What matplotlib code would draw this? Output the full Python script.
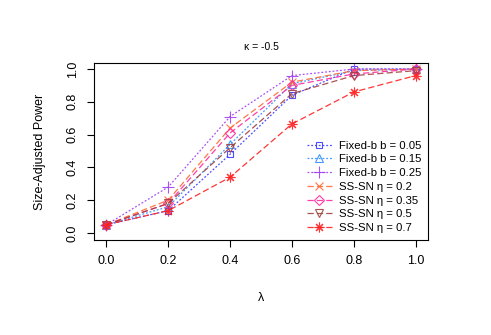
import matplotlib
matplotlib.use("Agg")
import matplotlib.pyplot as plt
import numpy as np

plt.rcParams['font.family'] = ['Liberation Sans', 'DejaVu Sans']

lam = [0.0, 0.2, 0.4, 0.6, 0.8, 1.0]
labels = ["Fixed-b b = 0.05", "Fixed-b b = 0.15", "Fixed-b b = 0.25",
          "SS-SN η = 0.2", "SS-SN η = 0.35", "SS-SN η = 0.5", "SS-SN η = 0.7"]
fb_005 = [0.05, 0.136, 0.48, 0.84, 1.00, 1.00]
fb_015 = [0.05, 0.16, 0.54, 0.91, 0.99, 1.00]
fb_025 = [0.05, 0.28, 0.71, 0.96, 1.00, 1.00]
ss_02 = [0.05, 0.20, 0.64, 0.92, 0.99, 1.00]
ss_035 = [0.05, 0.18, 0.61, 0.90, 0.97, 1.00]
ss_05 = [0.05, 0.18, 0.52, 0.85, 0.96, 0.99]
ss_07 = [0.05, 0.136, 0.34, 0.665, 0.86, 0.96]
series = [fb_005, fb_015, fb_025, ss_02, ss_035, ss_05, ss_07]

colors = ["#3b3bff", "#2f8fff", "#a040f0", "#ff6a33", "#ff2aa0", "#a0403f", "#ff2020"]
markers = ["s", "^", "+", "x", "D", "v", (8, 2, 0)]
styles = [(0, (1.5, 1.5)), (0, (1.5, 1.5)), (0, (1.5, 1.5)),
          (0, (5, 2.5)), (0, (5, 2.5)), (0, (5, 2.5)), (0, (5, 2.5))]
msizes = [5, 6, 8, 6, 5, 6, 7]

fig = plt.figure(figsize=(4.91, 3.35), dpi=100)
ax = fig.add_axes([0.1914, 0.2836, 0.6803, 0.5284])

for y, lab, c, m, ls, ms in zip(series, labels, colors, markers, styles, msizes):
    mfc = "none" if m in ("s", "^", "D", "v") else c
    ax.plot(lam, y, color=c, linestyle=ls, linewidth=0.9, marker=m, markersize=ms,
            markerfacecolor=mfc, markeredgecolor=c, markeredgewidth=0.8, label=lab, alpha=0.9)

ax.set_xlim(-0.04, 1.04)
ax.set_ylim(-0.043, 1.037)
ax.set_xticks([0.0, 0.2, 0.4, 0.6, 0.8, 1.0])
ax.set_xticklabels(["0.0", "0.2", "0.4", "0.6", "0.8", "1.0"])
ax.set_yticks([0.0, 0.2, 0.4, 0.6, 0.8, 1.0])
ax.set_yticklabels(["0.0", "0.2", "0.4", "0.6", "0.8", "1.0"], rotation=90, va="center")
ax.tick_params(labelsize=9, length=5, width=0.8, pad=6)
for s in ax.spines.values():
    s.set_linewidth(0.8)

ax.set_ylabel("Size-Adjusted Power", fontsize=9, labelpad=15)
ax.set_xlabel("λ", fontsize=9, labelpad=18)
ax.set_title("κ = -0.5", fontsize=7.5, pad=9)

leg = ax.legend(loc="lower right", frameon=False, fontsize=8.2, handlelength=2.2,
                labelspacing=0.33, borderaxespad=0.2, handletextpad=0.6)

fig.savefig("out.png", dpi=100)
